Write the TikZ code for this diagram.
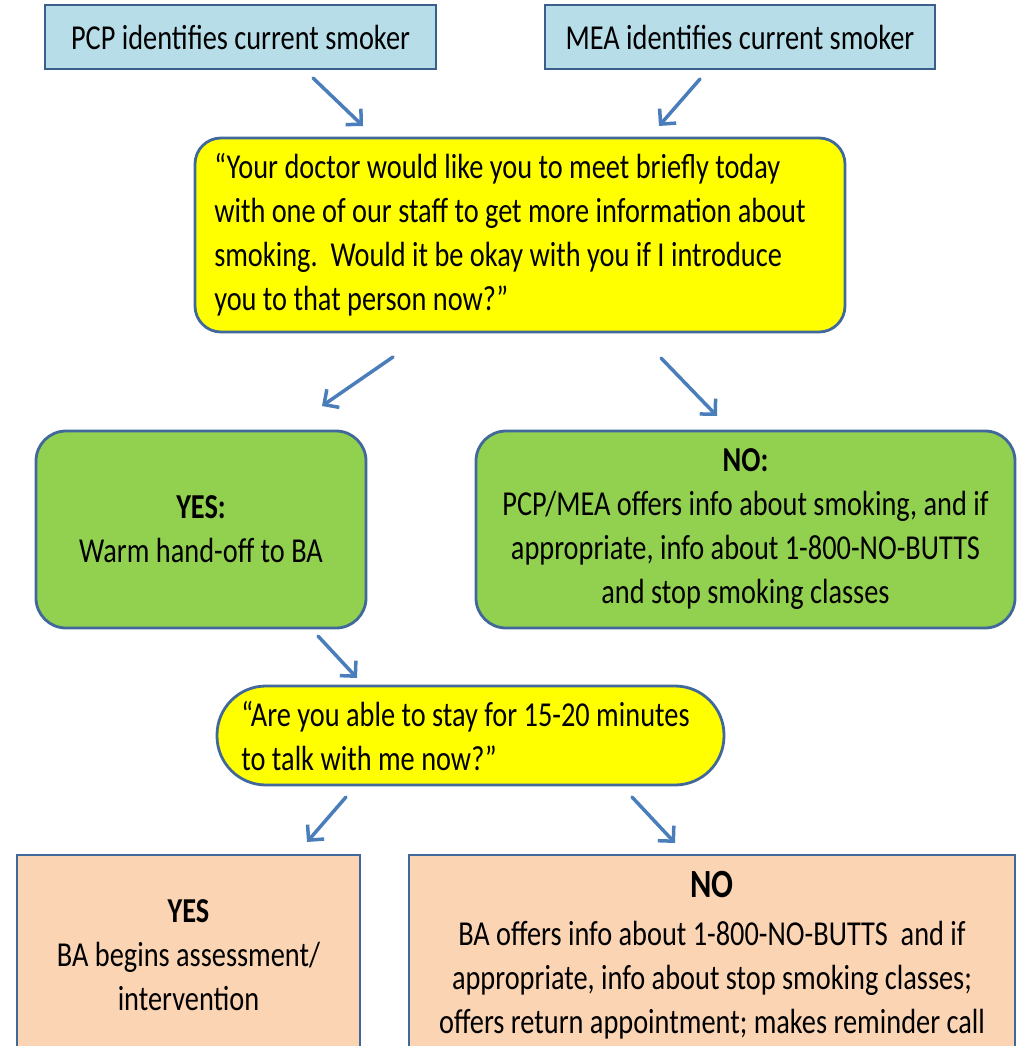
\documentclass[tikz,border=0pt]{standalone}
\usepackage{fontspec}
\setmainfont[FakeStretch=0.81]{Carlito}
\usetikzlibrary{arrows.meta}
\definecolor{bord}{HTML}{41689A}
\definecolor{bordtop}{HTML}{3A5F8C}
\definecolor{arrowc}{HTML}{4A7EBB}
\definecolor{lblue}{HTML}{B7DEE8}
\definecolor{yel}{HTML}{FFFF00}
\definecolor{grn}{HTML}{92D050}
\definecolor{salm}{HTML}{FBD4B4}
\begin{document}
\begin{tikzpicture}[x=1pt,y=-1pt,
  box/.style={draw=bord, line width=2.8pt, inner sep=0pt, align=center,
    font=\fontsize{35}{44}\selectfont},
  arr/.style={draw=arrowc, line width=3.5pt, line cap=round,
    -{Straight Barb[length=11pt,width=22pt,line width=3.5pt]}}]
\useasboundingbox (0,0) rectangle (1019,1046);
\clip (0,0) rectangle (1019,1046);
% top boxes
\node[box, draw=bordtop, fill=lblue, minimum width=391pt, minimum height=64pt] (pcp) at (240.5,37) {PCP identifies current smoker};
\node[box, draw=bordtop, fill=lblue, minimum width=390pt, minimum height=64pt] (mea) at (740,37) {MEA identifies current smoker};
% big yellow
\node[box, fill=yel, rounded corners=26pt, minimum width=650pt, minimum height=194pt,
  align=left] (q1) at (520,235)
  {“Your doctor would like you to meet briefly today\\
   with one of our staff to get more information about\rule{20pt}{0pt}\\
   smoking.\ \ Would it be okay with you if I introduce\\
   you to that person now?”};
% green boxes
\node[box, fill=grn, rounded corners=30pt, minimum width=330pt, minimum height=197pt] (yes1) at (201,529.5)
  {\textbf{YES:}\\Warm hand-off to BA};
\node[box, fill=grn, rounded corners=30pt, minimum width=539pt, minimum height=197pt] (no1) at (745.5,529.5)
  {\textbf{NO:}\\PCP/MEA offers info about smoking, and if\\appropriate, info about 1-800-NO-BUTTS\\and stop smoking classes};
% small yellow
\node[box, fill=yel, rounded corners=49pt, minimum width=507pt, minimum height=99pt,
  align=left] (q2) at (470.5,735.5)
  {“Are you able to stay for 15-20 minutes\rule{10pt}{0pt}\\to talk with me now?”};
% salmon boxes
\node[box, fill=salm, minimum width=343pt, minimum height=200pt] (yes2) at (188.5,955)
  {\textbf{YES}\\BA begins assessment/\\intervention};
\node[box, fill=salm, minimum width=606pt, minimum height=200pt] (no2) at (712,955)
  {{\fontsize{40}{44}\selectfont\textbf{NO}}\\[4pt]BA offers info about 1-800-NO-BUTTS\ \ and if\\appropriate, info about stop smoking classes;\\offers return appointment; makes reminder call};
% arrow end points
\coordinate (a1s) at (313,78);  \coordinate (a1e) at (363,126);
\coordinate (a2s) at (700,79);  \coordinate (a2e) at (659,126);
\coordinate (a3s) at (393,357); \coordinate (a3e) at (322,406);
\coordinate (a4s) at (661,358); \coordinate (a4e) at (717,416);
\coordinate (a5s) at (318,636); \coordinate (a5e) at (357,678);
\coordinate (a6s) at (346,797); \coordinate (a6e) at (307,842);
\coordinate (a7s) at (632,797); \coordinate (a7e) at (675,843);
\draw[arr] (a1s) -- (a1e);
\draw[arr] (a2s) -- (a2e);
\draw[arr] (a3s) -- (a3e);
\draw[arr] (a4s) -- (a4e);
\draw[arr] (a5s) -- (a5e);
\draw[arr] (a6s) -- (a6e);
\draw[arr] (a7s) -- (a7e);
\end{tikzpicture}
\end{document}
